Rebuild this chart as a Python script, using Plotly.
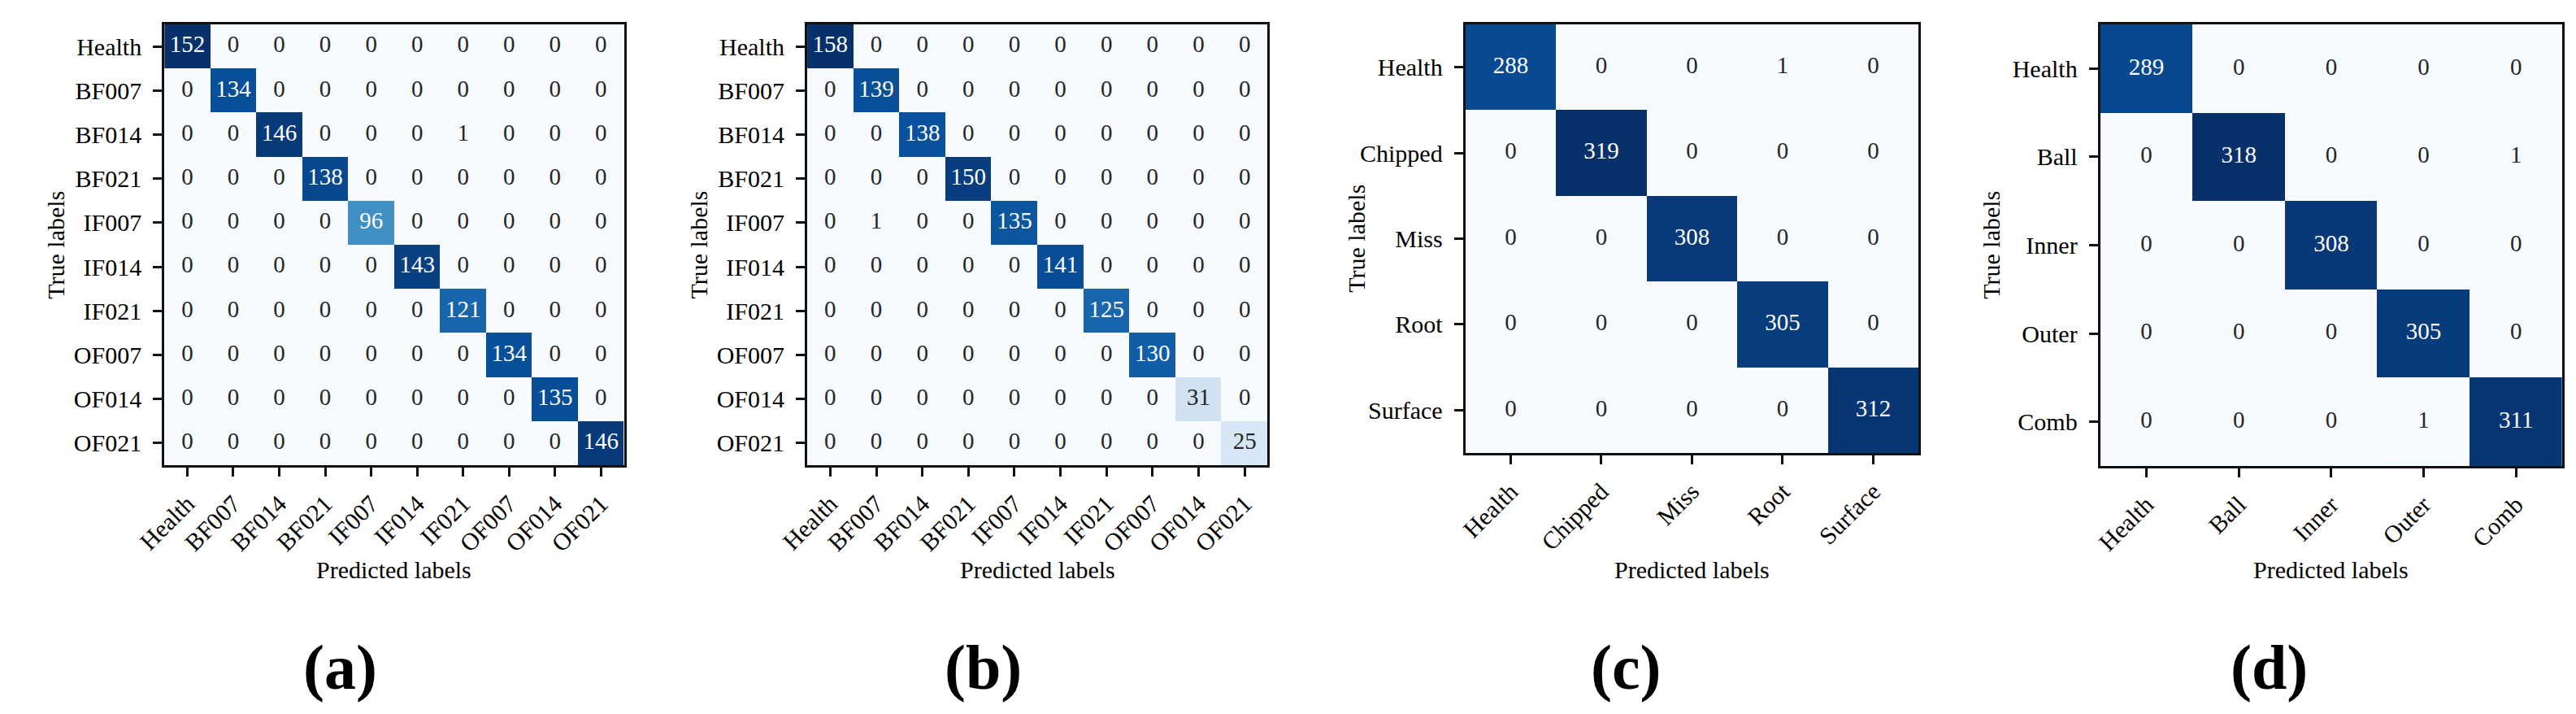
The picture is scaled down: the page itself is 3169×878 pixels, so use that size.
import plotly.graph_objects as go

# ---------------- data ----------------
labels_ab = ["Health", "BF007", "BF014", "BF021", "IF007", "IF014", "IF021", "OF007", "OF014", "OF021"]
labels_c = ["Health", "Chipped", "Miss", "Root", "Surface"]
labels_d = ["Health", "Ball", "Inner", "Outer", "Comb"]

cm_a = [
    [152, 0, 0, 0, 0, 0, 0, 0, 0, 0],
    [0, 134, 0, 0, 0, 0, 0, 0, 0, 0],
    [0, 0, 146, 0, 0, 0, 1, 0, 0, 0],
    [0, 0, 0, 138, 0, 0, 0, 0, 0, 0],
    [0, 0, 0, 0, 96, 0, 0, 0, 0, 0],
    [0, 0, 0, 0, 0, 143, 0, 0, 0, 0],
    [0, 0, 0, 0, 0, 0, 121, 0, 0, 0],
    [0, 0, 0, 0, 0, 0, 0, 134, 0, 0],
    [0, 0, 0, 0, 0, 0, 0, 0, 135, 0],
    [0, 0, 0, 0, 0, 0, 0, 0, 0, 146],
]
cm_b = [
    [158, 0, 0, 0, 0, 0, 0, 0, 0, 0],
    [0, 139, 0, 0, 0, 0, 0, 0, 0, 0],
    [0, 0, 138, 0, 0, 0, 0, 0, 0, 0],
    [0, 0, 0, 150, 0, 0, 0, 0, 0, 0],
    [0, 1, 0, 0, 135, 0, 0, 0, 0, 0],
    [0, 0, 0, 0, 0, 141, 0, 0, 0, 0],
    [0, 0, 0, 0, 0, 0, 125, 0, 0, 0],
    [0, 0, 0, 0, 0, 0, 0, 130, 0, 0],
    [0, 0, 0, 0, 0, 0, 0, 0, 31, 0],
    [0, 0, 0, 0, 0, 0, 0, 0, 0, 25],
]
cm_c = [
    [288, 0, 0, 1, 0],
    [0, 319, 0, 0, 0],
    [0, 0, 308, 0, 0],
    [0, 0, 0, 305, 0],
    [0, 0, 0, 0, 312],
]
cm_d = [
    [289, 0, 0, 0, 0],
    [0, 318, 0, 0, 1],
    [0, 0, 308, 0, 0],
    [0, 0, 0, 305, 0],
    [0, 0, 0, 1, 311],
]
panel_tags = ["(a)", "(b)", "(c)", "(d)"]
x_title = "Predicted labels"
y_title = "True labels"

# ---------------- styling / layout ----------------
PAGE_W, PAGE_H = 3169, 878
M = 8  # default <body> margin of the page written by write_html
W, H = PAGE_W - 2 * M, PAGE_H - 2 * M
FONT = "Liberation Serif, Times New Roman, serif"
BLUES = ["#f7fbff", "#deebf7", "#c6dbef", "#9ecae1", "#6baed6",
         "#4292c6", "#2171b5", "#08519c", "#08306b"]
colorscale = [[i / 8, c] for i, c in enumerate(BLUES)]

# pixel boxes (page coordinates) of each plotting area: (left, right, top, bottom)
boxes = [(168, 740, 30, 572), (968, 1541, 30, 572),
         (1787, 2351, 30, 557), (2577, 3152, 30, 573)]
panels = [(cm_a, labels_ab), (cm_b, labels_ab), (cm_c, labels_c), (cm_d, labels_d)]


def px(xp):
    return (xp - M) / W


def py(yp):
    return 1 - (yp - M) / H


def hex2rgb(h):
    h = h.lstrip("#")
    return [int(h[i:i + 2], 16) / 255 for i in (0, 2, 4)]


def blues_at(v):
    v = min(max(v, 0), 1) * 8
    i = min(int(v), 7)
    f = v - i
    a, b = hex2rgb(BLUES[i]), hex2rgb(BLUES[i + 1])
    return [a[k] + (b[k] - a[k]) * f for k in range(3)]


def lum(rgb):
    def ch(c):
        return c / 12.92 if c <= 0.03928 else ((c + 0.055) / 1.055) ** 2.4
    r, g, b = (ch(c) for c in rgb)
    return 0.2126 * r + 0.7152 * g + 0.0722 * b


fig = go.Figure()
layout = dict(
    width=W, height=H, margin=dict(l=0, r=0, t=0, b=0),
    paper_bgcolor="white", plot_bgcolor="white", showlegend=False,
    font=dict(family=FONT, color="black"),
)
annotations = []

for k, ((cm, labs), (l, r, t, b)) in enumerate(zip(panels, boxes)):
    xa = "x" if k == 0 else f"x{k + 1}"
    ya = "y" if k == 0 else f"y{k + 1}"
    zmax = max(max(row) for row in cm)
    fig.add_trace(go.Heatmap(
        z=cm, x=labs, y=labs, xaxis=xa, yaxis=ya,
        colorscale=colorscale, zmin=0, zmax=zmax, showscale=False,
        hoverinfo="skip",
    ))
    tx, ty, tt, tc = [], [], [], []
    for i, row in enumerate(cm):
        for j, v in enumerate(row):
            tx.append(labs[j])
            ty.append(labs[i])
            tt.append(str(v))
            tc.append("#262626" if lum(blues_at(v / zmax)) > 0.408 else "white")
    fig.add_trace(go.Scatter(
        x=tx, y=ty, text=tt, mode="text", xaxis=xa, yaxis=ya,
        textfont=dict(family=FONT, size=29, color=tc), hoverinfo="skip",
    ))
    axis_common = dict(
        type="category", categoryorder="array", categoryarray=labs,
        showgrid=False, zeroline=False, showline=True, mirror=True,
        linecolor="#111111", linewidth=3,
        ticks="outside", ticklen=11, tickwidth=2.5, tickcolor="#111111",
        tickfont=dict(family=FONT, size=30, color="black"),
        fixedrange=True,
    )
    layout["xaxis" if k == 0 else f"xaxis{k + 1}"] = dict(
        axis_common, domain=[px(l), px(r)], anchor=ya, tickangle=-45,
        ticklabelstandoff=4,
    )
    layout["yaxis" if k == 0 else f"yaxis{k + 1}"] = dict(
        axis_common, domain=[py(b), py(t)], anchor=xa,
        autorange="reversed", ticklabelstandoff=8,
    )
    annotations.append(dict(
        text=x_title, x=px((l + r) / 2), y=py(700), xref="paper", yref="paper",
        showarrow=False, font=dict(family=FONT, size=30, color="black"),
        xanchor="center", yanchor="middle",
    ))
    annotations.append(dict(
        text=y_title, x=px(l - 136), y=py((t + b) / 2), xref="paper", yref="paper",
        showarrow=False, textangle=-90, font=dict(family=FONT, size=30, color="black"),
        xanchor="center", yanchor="middle",
    ))
    annotations.append(dict(
        text=f"<b>{panel_tags[k]}</b>", x=px(387 + 800 * k), y=py(820),
        xref="paper", yref="paper", showarrow=False,
        font=dict(family=FONT, size=78, color="black"),
        xanchor="center", yanchor="middle",
    ))

layout["annotations"] = annotations
fig.update_layout(**layout)
fig.write_html("out.html")
